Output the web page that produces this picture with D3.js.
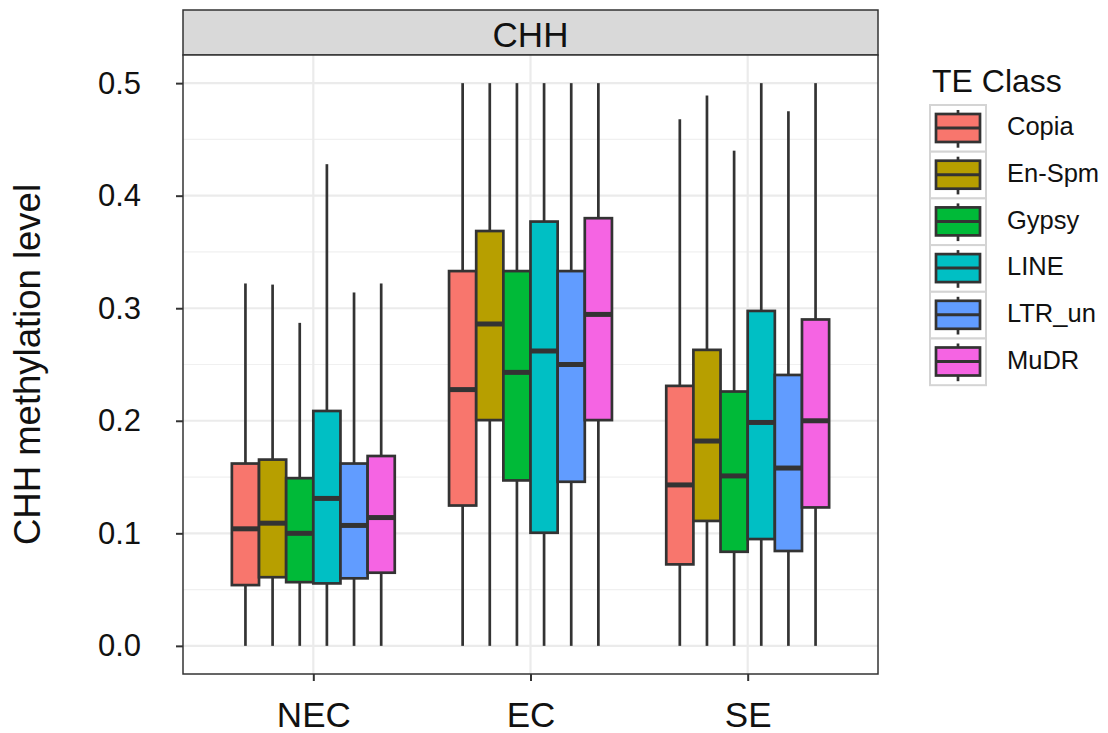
<!DOCTYPE html>
<html>
<head>
<meta charset="utf-8">
<script src="https://cdn.jsdelivr.net/npm/d3@7/dist/d3.min.js"></script>
<style>
  html, body { margin: 0; padding: 0; background: #fff; }
  svg { display: block; font-family: "Liberation Sans", Arial, Helvetica, sans-serif; }
</style>
</head>
<body>
<svg id="chart" width="1108" height="733"></svg>
<script>
// ---------- data ----------
const regions = ["NEC", "EC", "SE"];
const teClasses = ["Copia", "En-Spm", "Gypsy", "LINE", "LTR_un", "MuDR"];
const classColors = ["#F8766D", "#B79F00", "#00BA38", "#00BFC4", "#619CFF", "#F564E3"];
const yTicks = [0.0, 0.1, 0.2, 0.3, 0.4, 0.5];
const yMinorTicks = [0.05, 0.15, 0.25, 0.35, 0.45];
const facetLabel = "CHH";
const yTitle = "CHH methylation level";
const legendTitle = "TE Class";

// one row per region (NEC, EC, SE), one value per TE class
const whiskerLow = [
  [0, 0, 0, 0, 0, 0],
  [0, 0, 0, 0, 0, 0],
  [0, 0, 0, 0, 0, 0]
];
const q1 = [
  [0.054, 0.061, 0.0566, 0.0555, 0.060, 0.065],
  [0.1247, 0.2006, 0.147, 0.1005, 0.1458, 0.2006],
  [0.0724, 0.111, 0.0836, 0.0949, 0.0843, 0.123]
];
const median = [
  [0.104, 0.109, 0.100, 0.131, 0.107, 0.114],
  [0.2277, 0.286, 0.243, 0.262, 0.250, 0.2945],
  [0.143, 0.182, 0.151, 0.1985, 0.158, 0.200]
];
const q3 = [
  [0.162, 0.1655, 0.149, 0.2087, 0.162, 0.1687],
  [0.333, 0.3686, 0.333, 0.377, 0.333, 0.380],
  [0.231, 0.263, 0.226, 0.2976, 0.2407, 0.290]
];
const whiskerHigh = [
  [0.322, 0.321, 0.287, 0.428, 0.314, 0.322],
  [0.5, 0.5, 0.5, 0.5, 0.5, 0.5],
  [0.468, 0.489, 0.440, 0.5, 0.475, 0.5]
];

// ---------- layout ----------
const svg = d3.select("#chart");
const panel = { left: 183, right: 878, top: 55, bottom: 674 };
const strip = { top: 10, bottom: 55 };
const ink = "#333333";
const lw = 2.7;

const x = d3.scalePoint().domain(regions).range([panel.left, panel.right]).padding(0.6);
const step = x.step();
const dodge = d3.scaleBand().domain(teClasses).range([-0.375 * step, 0.375 * step]).padding(0);
const y = d3.scaleLinear().domain([-0.025, 0.525]).range([panel.bottom, panel.top]);
const color = d3.scaleOrdinal().domain(teClasses).range(classColors);

// strip
svg.append("rect")
  .attr("x", panel.left).attr("y", strip.top)
  .attr("width", panel.right - panel.left).attr("height", strip.bottom - strip.top)
  .attr("fill", "#D9D9D9").attr("stroke", ink).attr("stroke-width", 1.5);
svg.append("text")
  .attr("x", (panel.left + panel.right) / 2).attr("y", 47)
  .attr("text-anchor", "middle").attr("font-size", 35).attr("fill", "#111")
  .text(facetLabel);

// panel background
svg.append("rect")
  .attr("x", panel.left).attr("y", panel.top)
  .attr("width", panel.right - panel.left).attr("height", panel.bottom - panel.top)
  .attr("fill", "#fff");

// grid
const grid = svg.append("g");
grid.selectAll("line.minor").data(yMinorTicks).enter().append("line")
  .attr("x1", panel.left).attr("x2", panel.right)
  .attr("y1", d => y(d)).attr("y2", d => y(d))
  .attr("stroke", "#F0F0F0").attr("stroke-width", 1.2);
grid.selectAll("line.majory").data(yTicks).enter().append("line")
  .attr("x1", panel.left).attr("x2", panel.right)
  .attr("y1", d => y(d)).attr("y2", d => y(d))
  .attr("stroke", "#EBEBEB").attr("stroke-width", 2.2);
grid.selectAll("line.majorx").data(regions).enter().append("line")
  .attr("x1", d => x(d)).attr("x2", d => x(d))
  .attr("y1", panel.top).attr("y2", panel.bottom)
  .attr("stroke", "#EBEBEB").attr("stroke-width", 2.2);

// boxes
const boxes = [];
regions.forEach((r, ri) => {
  teClasses.forEach((c, ci) => {
    boxes.push({ region: r, cls: c,
      lo: whiskerLow[ri][ci], q1: q1[ri][ci], med: median[ri][ci],
      q3: q3[ri][ci], hi: whiskerHigh[ri][ci] });
  });
});
const bw = dodge.bandwidth();
const bg = svg.append("g").selectAll("g").data(boxes).enter().append("g")
  .attr("transform", d => `translate(${x(d.region) + dodge(d.cls)},0)`);
bg.append("line")
  .attr("x1", bw / 2).attr("x2", bw / 2)
  .attr("y1", d => y(d.hi)).attr("y2", d => y(d.q3))
  .attr("stroke", ink).attr("stroke-width", lw);
bg.append("line")
  .attr("x1", bw / 2).attr("x2", bw / 2)
  .attr("y1", d => y(d.q1)).attr("y2", d => y(d.lo))
  .attr("stroke", ink).attr("stroke-width", lw);
bg.append("rect")
  .attr("x", 0).attr("width", bw)
  .attr("y", d => y(d.q3)).attr("height", d => y(d.q1) - y(d.q3))
  .attr("fill", d => color(d.cls)).attr("stroke", ink).attr("stroke-width", lw);
bg.append("line")
  .attr("x1", 0).attr("x2", bw)
  .attr("y1", d => y(d.med)).attr("y2", d => y(d.med))
  .attr("stroke", ink).attr("stroke-width", 5);

// panel border
svg.append("rect")
  .attr("x", panel.left).attr("y", panel.top)
  .attr("width", panel.right - panel.left).attr("height", panel.bottom - panel.top)
  .attr("fill", "none").attr("stroke", ink).attr("stroke-width", 1.5);

// y axis
const yAxis = d3.axisLeft(y).tickValues(yTicks).tickFormat(d3.format(".1f")).tickSize(7).tickPadding(35);
const ya = svg.append("g").attr("transform", `translate(${panel.left},0)`).call(yAxis);
ya.select(".domain").remove();
ya.selectAll(".tick line").attr("stroke", ink).attr("stroke-width", 2);
ya.selectAll(".tick text").attr("font-size", 31).attr("fill", "#111")
  .attr("font-family", "Liberation Sans, Arial, sans-serif");

// x axis
const xAxis = d3.axisBottom(x).tickSize(7).tickPadding(21);
const xa = svg.append("g").attr("transform", `translate(0,${panel.bottom})`).call(xAxis);
xa.select(".domain").remove();
xa.selectAll(".tick line").attr("stroke", ink).attr("stroke-width", 2);
xa.selectAll(".tick text").attr("font-size", 35).attr("fill", "#111")
  .attr("font-family", "Liberation Sans, Arial, sans-serif");

// y title
svg.append("text")
  .attr("transform", `translate(40,${(y(0) + y(0.5)) / 2}) rotate(-90)`)
  .attr("text-anchor", "middle").attr("font-size", 36.5).attr("fill", "#111")
  .text(yTitle);

// legend
const leg = svg.append("g").attr("transform", "translate(930,105)");
leg.append("text").attr("x", 2).attr("y", -13)
  .attr("font-size", 32).attr("fill", "#111").text(legendTitle);
const keyW = 56, keyH = 46.7;
const keys = leg.selectAll("g.key").data(teClasses).enter().append("g")
  .attr("transform", (d, i) => `translate(0,${i * keyH})`);
keys.append("rect").attr("x", 0).attr("y", 0).attr("width", keyW).attr("height", keyH)
  .attr("fill", "#fff").attr("stroke", "#D4D4D4").attr("stroke-width", 2);
keys.append("line").attr("x1", keyW / 2).attr("x2", keyW / 2)
  .attr("y1", 5).attr("y2", keyH - 4).attr("stroke", ink).attr("stroke-width", lw);
keys.append("rect").attr("x", 6).attr("y", 9).attr("width", keyW - 12).attr("height", 28)
  .attr("fill", d => color(d)).attr("stroke", ink).attr("stroke-width", lw);
keys.append("line").attr("x1", 6).attr("x2", keyW - 6)
  .attr("y1", 23).attr("y2", 23).attr("stroke", ink).attr("stroke-width", 3);
keys.append("text").attr("x", 77).attr("y", keyH / 2 + 7)
  .attr("font-size", 25.5).attr("fill", "#111").text(d => d);
</script>
</body>
</html>
